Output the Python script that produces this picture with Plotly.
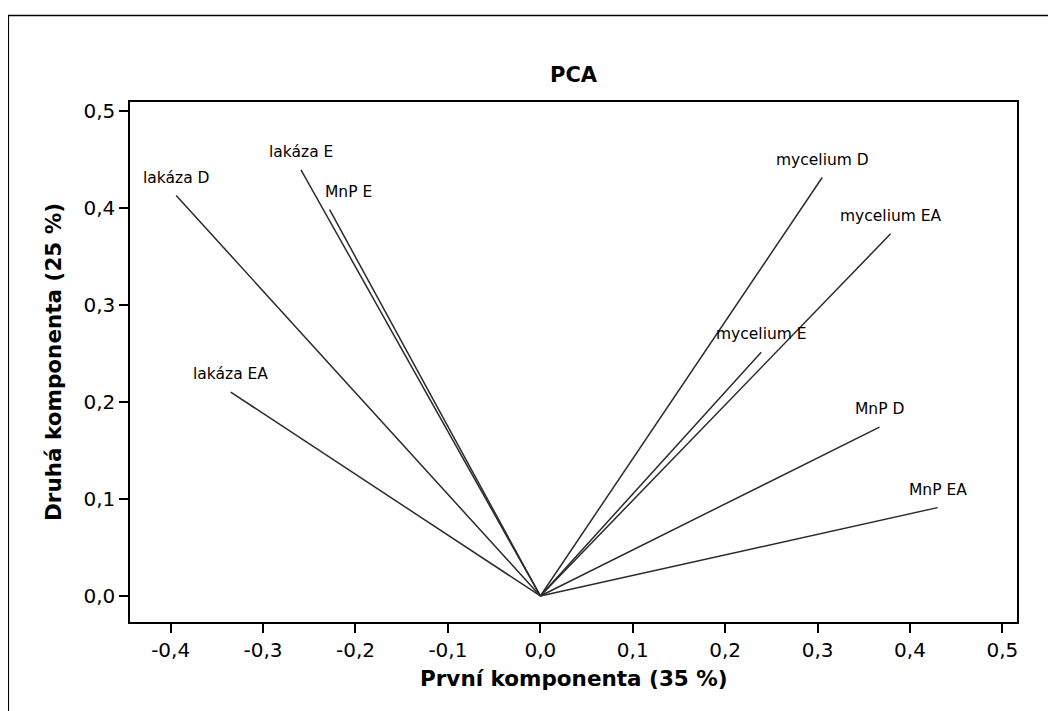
import plotly.graph_objects as go

# Loadings (PC1, PC2)
variables = ["lakáza D", "lakáza E", "MnP E", "lakáza EA",
             "mycelium D", "mycelium EA", "mycelium E", "MnP D", "MnP EA"]
pc1 = [-0.394, -0.259, -0.228, -0.335, 0.305, 0.379, 0.239, 0.367, 0.430]
pc2 = [0.4125, 0.439, 0.398, 0.210, 0.431, 0.373, 0.251, 0.174, 0.091]
label_xshift = [0, 0, 19, 0, 0, 0, 0, 0, 0]

x_ticks = [-0.4, -0.3, -0.2, -0.1, 0.0, 0.1, 0.2, 0.3, 0.4, 0.5]
y_ticks = [0.0, 0.1, 0.2, 0.3, 0.4, 0.5]

def fmt(v):
    return f"{v:.1f}".replace(".", ",")

fig = go.Figure()
for name, x, y in zip(variables, pc1, pc2):
    fig.add_trace(go.Scatter(x=[0, x], y=[0, y], mode="lines",
                             line=dict(color="#2a2a2a", width=1.5),
                             name=name, showlegend=False, hoverinfo="skip"))

FONT = "DejaVu Sans, Verdana, sans-serif"
annotations = []
for name, x, y, xs in zip(variables, pc1, pc2, label_xshift):
    annotations.append(dict(x=x, y=y, xref="x", yref="y", text=name,
                            showarrow=False, xanchor="center", yanchor="middle",
                            xshift=xs, yshift=18,
                            font=dict(family=FONT, size=15.5, color="black")))

# titles
annotations.append(dict(x=0.5, y=1.0, xref="paper", yref="paper", text="<b>PCA</b>",
                        showarrow=False, xanchor="center", yanchor="middle", yshift=27,
                        font=dict(family=FONT, size=21, color="black")))
annotations.append(dict(x=0.5, y=0.0, xref="paper", yref="paper",
                        text="<b>První komponenta (35 %)</b>",
                        showarrow=False, xanchor="center", yanchor="middle", yshift=-56,
                        font=dict(family=FONT, size=21.5, color="black")))
annotations.append(dict(x=0.0, y=0.5, xref="paper", yref="paper",
                        text="<b>Druhá komponenta (25 %)</b>", textangle=-90,
                        showarrow=False, xanchor="center", yanchor="middle", xshift=-77,
                        font=dict(family=FONT, size=21.5, color="black")))

fig.update_layout(
    width=1056, height=711,
    margin=dict(l=122, r=46.7, t=93.5, b=97.3),
    paper_bgcolor="white", plot_bgcolor="white",
    annotations=annotations,
    shapes=[dict(type="rect", xref="paper", yref="paper",
                 x0=-0.1372, x1=1.08, y0=-0.22, y1=1.1663,
                 line=dict(color="black", width=1.5), layer="below")],
    xaxis=dict(range=[-0.444, 0.5158], tickvals=x_ticks,
               ticktext=[fmt(v) for v in x_ticks],
               showgrid=False, zeroline=False, showline=True, mirror=True,
               linecolor="black", linewidth=1.5, ticks="outside", ticklen=9,
               tickwidth=1.5, tickcolor="black",
               tickfont=dict(family=FONT, size=20, color="black")),
    yaxis=dict(range=[-0.0268, 0.5088], tickvals=y_ticks,
               ticktext=[fmt(v) for v in y_ticks],
               showgrid=False, zeroline=False, showline=True, mirror=True,
               linecolor="black", linewidth=1.5, ticks="outside", ticklen=9,
               tickwidth=1.5, tickcolor="black",
               tickfont=dict(family=FONT, size=20, color="black")),
)

fig.write_html("out.html")
